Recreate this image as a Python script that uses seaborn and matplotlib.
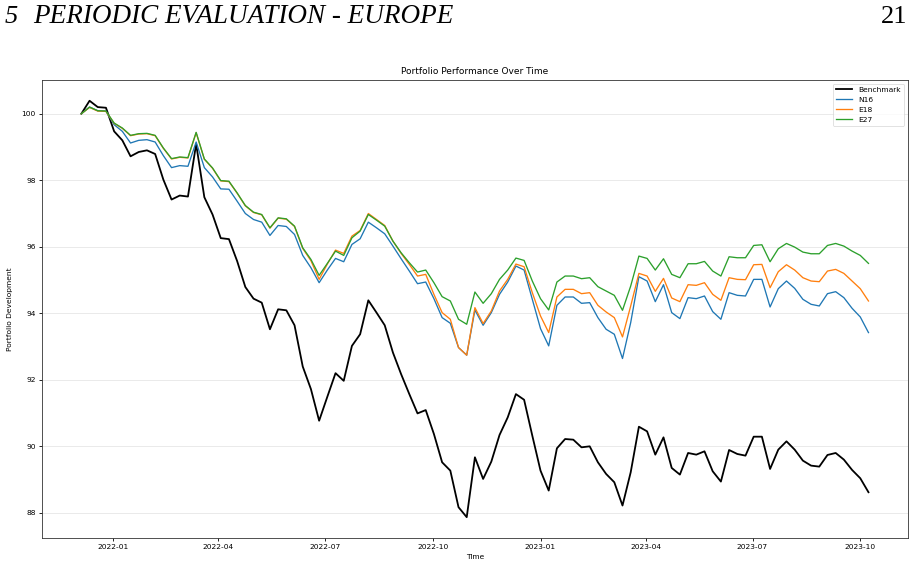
import pandas as pd
import numpy as np
import seaborn as sns
import matplotlib.pyplot as plt

# weekly observations, 97 points
dates = pd.date_range('2021-12-05', periods=97, freq='7D')

benchmark = [100.0, 100.39, 100.2, 100.18, 99.47, 99.2, 98.72, 98.85, 98.9, 98.79,
             98.02, 97.42, 97.54, 97.51, 99.09, 97.49, 96.97, 96.26, 96.23, 95.57,
             94.79, 94.44, 94.32, 93.52, 94.12, 94.09, 93.64, 92.4, 91.72, 90.77,
             91.49, 92.2, 91.97, 93.02, 93.37, 94.39, 94.02, 93.64, 92.82, 92.17,
             91.57, 90.99, 91.09, 90.37, 89.52, 89.27, 88.17, 87.87, 89.67, 89.02,
             89.54, 90.34, 90.87, 91.57, 91.4, 90.32, 89.27, 88.67, 89.94, 90.22,
             90.2, 89.97, 90.0, 89.52, 89.17, 88.92, 88.22, 89.22, 90.59, 90.45,
             89.75, 90.27, 89.35, 89.15, 89.8, 89.75, 89.85, 89.25, 88.94, 89.89,
             89.77, 89.72, 90.29, 90.29, 89.32, 89.9, 90.15, 89.9, 89.57, 89.42,
             89.39, 89.74, 89.8, 89.6, 89.29, 89.04, 88.62]

n16 = [100.0, 100.2, 100.09, 100.08, 99.67, 99.47, 99.12, 99.2, 99.22, 99.15,
       98.74, 98.38, 98.44, 98.42, 99.15, 98.38, 98.1, 97.74, 97.73, 97.37,
       97.0, 96.82, 96.74, 96.34, 96.64, 96.61, 96.37, 95.74, 95.37, 94.92,
       95.3, 95.65, 95.55, 96.07, 96.24, 96.74, 96.57, 96.39, 96.02, 95.64,
       95.27, 94.89, 94.94, 94.44, 93.87, 93.7, 92.97, 92.74, 94.1, 93.64,
       94.02, 94.57, 94.94, 95.42, 95.3, 94.42, 93.54, 93.02, 94.24, 94.49,
       94.49, 94.3, 94.32, 93.87, 93.52, 93.37, 92.64, 93.72, 95.1, 94.97,
       94.35, 94.86, 94.02, 93.84, 94.47, 94.44, 94.52, 94.05, 93.82, 94.62,
       94.54, 94.52, 95.02, 95.02, 94.19, 94.74, 94.97, 94.75, 94.42, 94.27,
       94.22, 94.59, 94.65, 94.47, 94.15, 93.89, 93.42]

e18 = [100.0, 100.19, 100.08, 100.07, 99.71, 99.56, 99.34, 99.39, 99.4, 99.34,
       98.96, 98.64, 98.69, 98.67, 99.43, 98.63, 98.36, 97.98, 97.96, 97.61,
       97.23, 97.03, 96.96, 96.56, 96.86, 96.83, 96.61, 95.95, 95.58, 95.02,
       95.48, 95.9, 95.8, 96.32, 96.49, 97.0, 96.82, 96.64, 96.17, 95.8,
       95.47, 95.12, 95.17, 94.57, 94.02, 93.82, 92.97, 92.74, 94.17, 93.69,
       94.07, 94.67, 95.02, 95.48, 95.4, 94.62, 93.92, 93.42, 94.49, 94.72,
       94.72, 94.59, 94.62, 94.24, 94.04, 93.87, 93.29, 94.22, 95.2, 95.12,
       94.66, 95.05, 94.46, 94.35, 94.86, 94.84, 94.92, 94.57, 94.39, 95.07,
       95.02, 95.01, 95.46, 95.47, 94.77, 95.25, 95.46, 95.3, 95.07, 94.97,
       94.95, 95.27, 95.32, 95.2, 94.97, 94.74, 94.37]

e27 = [100.0, 100.2, 100.09, 100.08, 99.72, 99.57, 99.35, 99.4, 99.41, 99.35,
       98.97, 98.65, 98.7, 98.68, 99.44, 98.64, 98.37, 97.99, 97.97, 97.62,
       97.24, 97.04, 96.97, 96.57, 96.87, 96.84, 96.62, 95.97, 95.62, 95.14,
       95.5, 95.87, 95.74, 96.27, 96.47, 96.97, 96.8, 96.62, 96.17, 95.82,
       95.52, 95.24, 95.3, 94.92, 94.5, 94.37, 93.82, 93.67, 94.64, 94.3,
       94.59, 95.02, 95.3, 95.66, 95.59, 94.97, 94.44, 94.1, 94.94, 95.12,
       95.12, 95.04, 95.07, 94.8, 94.67, 94.54, 94.09, 94.82, 95.72, 95.65,
       95.3, 95.64, 95.17, 95.07, 95.49, 95.49, 95.56, 95.27, 95.12, 95.7,
       95.67, 95.67, 96.04, 96.06, 95.55, 95.94, 96.1, 95.99, 95.84, 95.79,
       95.79, 96.04, 96.1, 96.02, 95.87, 95.74, 95.5]

df = pd.DataFrame({'Time': dates, 'Benchmark': benchmark, 'N16': n16, 'E18': e18, 'E27': e27})
long = df.melt(id_vars='Time', var_name='Series', value_name='Value')

plt.rcParams['font.size'] = 5.4
fig = plt.figure(figsize=(9.17, 5.69), dpi=100)
ax = fig.add_axes([0.0458, 0.0545, 0.9442, 0.805])

palette = {'Benchmark': 'black', 'N16': '#1f77b4', 'E18': '#ff7f0e', 'E27': '#2ca02c'}
sizes = {'Benchmark': 1.3, 'N16': 0.95, 'E18': 0.95, 'E27': 0.95}
sns.lineplot(data=long, x='Time', y='Value', hue='Series', size='Series',
             palette=palette, sizes=sizes, ax=ax)

ax.set_title('Portfolio Performance Over Time', fontsize=6.5, pad=4)
ax.set_xlabel('Time', labelpad=3)
ax.set_ylabel('Portfolio Development', labelpad=6)
ax.grid(axis='y', color='#e6e6e6', linewidth=0.6)
ax.set_axisbelow(True)
for s in ax.spines.values():
    s.set_linewidth(0.6)
    s.set_color('#333333')
ax.tick_params(width=0.6, length=2.5, pad=2)
leg = ax.legend(loc='upper right', fontsize=5.4, frameon=True, handlelength=2.2)
leg.get_frame().set_linewidth(0.5)

fig.text(0.005, 0.971, '5', family='Liberation Serif', style='italic', fontsize=19, va='center')
fig.text(0.036, 0.971, 'PERIODIC EVALUATION - EUROPE', family='Liberation Serif',
         style='italic', fontsize=19.5, va='center')
fig.text(0.99, 0.971, '21', family='Liberation Serif', fontsize=19, va='center', ha='right')

fig.savefig('out.png', dpi=100)
